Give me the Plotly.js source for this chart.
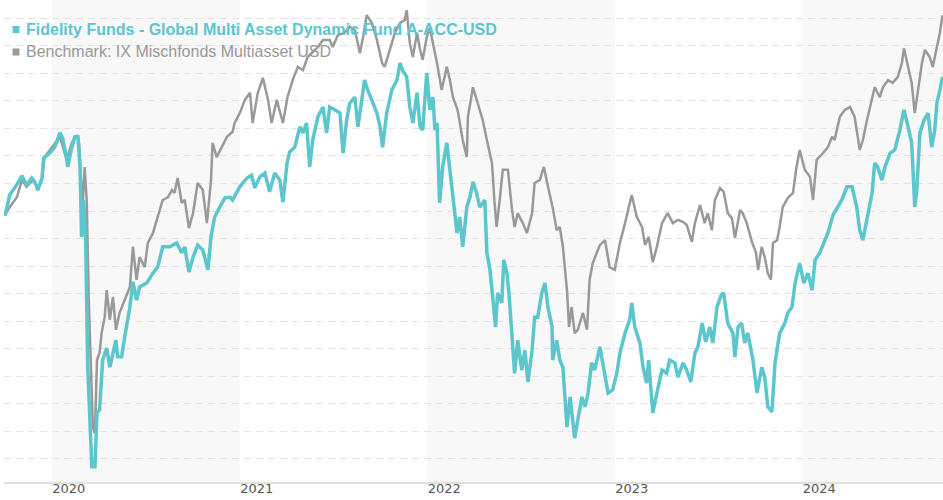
<!DOCTYPE html>
<html>
<head>
<meta charset="utf-8">
<script src="https://cdn.plot.ly/plotly-3.0.1.min.js"></script>
<style>html,body{margin:0;padding:0;background:#fff;}#chart{width:943px;height:500px;}</style>
</head>
<body>
<div id="chart"></div>
<script>
const fundName = "Fidelity Funds - Global Multi Asset Dynamic Fund A-ACC-USD";
const benchName = "Benchmark: IX Mischfonds Multiasset USD";

const yearTicks = ["2020-01-01","2021-01-01","2022-01-01","2023-01-01","2024-01-01"];
const yearLabels = ["2020","2021","2022","2023","2024"];
const shadedYears = [["2020-01-01","2021-01-01"],["2022-01-01","2023-01-01"],["2024-01-01","2025-01-01"]];

const fundDates = ["2019-10-02","2019-10-11","2019-10-21","2019-11-04","2019-11-13","2019-11-23","2019-11-29","2019-12-05","2019-12-13","2019-12-16","2019-12-28","2020-01-07","2020-01-17","2020-01-22","2020-01-30","2020-02-01","2020-02-09","2020-02-15","2020-02-21","2020-02-25","2020-02-28","2020-03-03","2020-03-07","2020-03-11","2020-03-19","2020-03-25","2020-03-29","2020-04-03","2020-04-09","2020-04-17","2020-04-23","2020-04-29","2020-05-05","2020-05-08","2020-05-16","2020-05-22","2020-05-28","2020-06-01","2020-06-07","2020-06-14","2020-06-20","2020-07-04","2020-07-16","2020-07-25","2020-08-04","2020-08-18","2020-08-31","2020-09-10","2020-09-16","2020-09-24","2020-10-02","2020-10-11","2020-10-21","2020-10-31","2020-11-06","2020-11-13","2020-11-23","2020-12-03","2020-12-13","2020-12-18","2021-01-01","2021-01-15","2021-01-24","2021-01-30","2021-02-09","2021-02-19","2021-02-28","2021-03-10","2021-03-20","2021-03-26","2021-04-03","2021-04-08","2021-04-18","2021-04-28","2021-05-04","2021-05-11","2021-05-17","2021-05-23","2021-06-02","2021-06-12","2021-06-19","2021-06-25","2021-07-05","2021-07-15","2021-07-21","2021-07-28","2021-08-03","2021-08-13","2021-08-19","2021-08-27","2021-09-01","2021-09-07","2021-09-15","2021-09-25","2021-10-01","2021-10-06","2021-10-14","2021-10-24","2021-11-03","2021-11-09","2021-11-14","2021-11-22","2021-11-28","2021-12-04","2021-12-12","2021-12-18","2021-12-23","2021-12-31","2022-01-06","2022-01-12","2022-01-16","2022-01-20","2022-01-25","2022-01-31","2022-02-08","2022-02-14","2022-02-20","2022-02-28","2022-03-05","2022-03-11","2022-03-19","2022-03-25","2022-03-31","2022-04-07","2022-04-13","2022-04-23","2022-04-27","2022-05-03","2022-05-09","2022-05-14","2022-05-18","2022-05-26","2022-05-30","2022-06-05","2022-06-09","2022-06-15","2022-06-20","2022-06-26","2022-07-04","2022-07-10","2022-07-16","2022-07-24","2022-07-29","2022-08-04","2022-08-12","2022-08-18","2022-08-24","2022-09-01","2022-09-02","2022-09-10","2022-09-16","2022-09-22","2022-09-30","2022-10-06","2022-10-11","2022-10-15","2022-10-21","2022-10-29","2022-11-04","2022-11-10","2022-11-17","2022-11-23","2022-12-03","2022-12-13","2022-12-19","2022-12-28","2023-01-05","2023-01-11","2023-01-21","2023-01-30","2023-02-03","2023-02-09","2023-02-19","2023-02-25","2023-03-04","2023-03-08","2023-03-16","2023-03-24","2023-04-03","2023-04-12","2023-04-18","2023-04-28","2023-05-04","2023-05-14","2023-05-21","2023-05-29","2023-06-06","2023-06-12","2023-06-20","2023-06-27","2023-07-05","2023-07-11","2023-07-19","2023-07-27","2023-08-01","2023-08-09","2023-08-19","2023-08-23","2023-08-29","2023-09-05","2023-09-11","2023-09-17","2023-09-27","2023-10-05","2023-10-14","2023-10-20","2023-10-26","2023-11-03","2023-11-09","2023-11-18","2023-11-28","2023-12-04","2023-12-12","2023-12-18","2023-12-27","2024-01-04","2024-01-12","2024-01-20","2024-01-26","2024-02-04","2024-02-12","2024-02-20","2024-03-01","2024-03-10","2024-03-18","2024-03-28","2024-04-07","2024-04-16","2024-04-22","2024-04-28","2024-05-06","2024-05-16","2024-05-21","2024-05-27","2024-06-04","2024-06-10","2024-06-20","2024-06-29","2024-07-09","2024-07-17","2024-07-25","2024-08-01","2024-08-07","2024-08-11","2024-08-17","2024-08-25","2024-09-02","2024-09-09","2024-09-15","2024-09-19","2024-09-25","2024-09-30"];
const fundValues = [99.1,102.9,104.2,106.4,104.7,106.0,105.3,103.8,106.0,109.6,110.5,111.6,114.2,113.3,109.6,108.0,111.6,113.5,113.5,108.0,95.3,102.0,94.7,71.6,53.5,53.5,63.3,63.8,72.9,75.1,71.6,74.2,76.5,73.5,73.5,77.1,80.2,82.5,87.1,83.8,86.2,86.9,88.7,89.8,93.5,93.5,94.2,92.4,93.5,88.9,91.6,93.8,92.9,89.3,95.3,98.9,100.7,102.4,102.5,102.0,104.4,106.0,106.5,104.2,106.2,106.9,103.5,106.9,105.6,101.6,108.7,110.7,111.6,115.3,114.2,116.0,108.0,112.9,117.1,118.9,114.2,118.9,118.4,117.8,110.5,116.5,119.6,120.7,115.3,120.2,123.8,122.0,120.2,117.8,115.3,111.6,117.8,122.0,123.8,126.9,125.6,124.4,118.9,116.0,121.5,115.3,114.7,125.1,118.4,120.7,114.7,116.0,101.5,108.0,112.4,107.5,102.5,96.0,98.9,93.5,100.7,102.5,105.3,103.3,100.7,102.0,92.4,89.3,83.8,78.9,85.1,83.3,91.1,88.7,85.1,76.5,70.5,76.5,71.1,74.7,68.9,74.7,80.7,80.7,85.1,86.9,82.5,78.9,72.9,76.5,72.9,71.6,60.7,66.2,61.5,58.7,62.0,66.2,64.4,66.9,72.4,71.1,75.3,70.5,66.9,67.5,70.5,74.2,77.8,80.2,83.3,78.9,76.0,71.6,68.7,72.9,63.3,66.9,71.1,70.5,72.9,72.4,69.8,72.4,71.1,68.9,74.2,75.3,79.6,76.2,78.9,76.0,82.5,84.7,85.1,79.6,77.8,73.5,78.9,79.6,76.0,77.8,72.9,66.9,71.6,69.8,64.4,63.5,72.4,77.8,79.6,81.5,82.5,86.9,90.5,86.9,88.7,85.6,91.1,92.4,94.2,96.0,99.3,100.7,102.0,104.4,104.4,100.7,96.5,94.7,98.9,103.3,108.7,108.0,105.6,108.0,110.5,111.1,114.7,118.4,115.3,112.4,100.7,103.8,114.2,116.5,117.8,111.6,114.7,119.6,122.0,124.4];

const benchDates = ["2019-10-02","2019-10-11","2019-10-25","2019-11-04","2019-11-13","2019-11-25","2019-12-05","2019-12-13","2019-12-18","2020-01-01","2020-01-17","2020-01-30","2020-02-09","2020-02-19","2020-02-23","2020-03-01","2020-03-05","2020-03-09","2020-03-13","2020-03-21","2020-03-25","2020-03-29","2020-04-03","2020-04-07","2020-04-13","2020-04-17","2020-04-23","2020-04-29","2020-05-05","2020-05-12","2020-05-22","2020-06-01","2020-06-07","2020-06-14","2020-06-20","2020-06-30","2020-07-06","2020-07-16","2020-07-25","2020-08-04","2020-08-14","2020-08-22","2020-08-27","2020-09-02","2020-09-10","2020-09-16","2020-09-24","2020-10-02","2020-10-11","2020-10-21","2020-10-29","2020-11-06","2020-11-09","2020-11-17","2020-11-27","2020-12-07","2020-12-18","2020-12-22","2021-01-01","2021-01-11","2021-01-21","2021-01-26","2021-02-05","2021-02-15","2021-02-25","2021-03-04","2021-03-14","2021-03-26","2021-04-04","2021-04-14","2021-04-24","2021-05-04","2021-05-13","2021-05-23","2021-06-02","2021-06-12","2021-06-25","2021-07-01","2021-07-11","2021-07-24","2021-08-03","2021-08-13","2021-08-23","2021-08-29","2021-09-05","2021-09-15","2021-09-25","2021-10-05","2021-10-10","2021-10-20","2021-10-30","2021-11-09","2021-11-18","2021-11-22","2021-11-28","2021-12-04","2021-12-12","2021-12-18","2021-12-23","2021-12-31","2022-01-06","2022-01-12","2022-01-20","2022-01-29","2022-02-08","2022-02-14","2022-02-20","2022-03-01","2022-03-11","2022-03-19","2022-03-21","2022-03-31","2022-04-09","2022-04-19","2022-04-27","2022-05-07","2022-05-12","2022-05-16","2022-05-22","2022-05-28","2022-06-07","2022-06-15","2022-06-20","2022-06-26","2022-07-06","2022-07-14","2022-07-24","2022-07-29","2022-08-08","2022-08-16","2022-08-24","2022-09-02","2022-09-10","2022-09-16","2022-09-22","2022-09-30","2022-10-04","2022-10-09","2022-10-15","2022-10-21","2022-10-31","2022-11-08","2022-11-13","2022-11-19","2022-11-27","2022-12-03","2022-12-13","2022-12-22","2023-01-01","2023-01-11","2023-01-21","2023-02-03","2023-02-13","2023-02-23","2023-03-01","2023-03-08","2023-03-16","2023-03-24","2023-04-03","2023-04-14","2023-04-24","2023-05-04","2023-05-14","2023-05-21","2023-05-31","2023-06-06","2023-06-16","2023-06-25","2023-07-01","2023-07-09","2023-07-15","2023-07-25","2023-08-01","2023-08-09","2023-08-17","2023-08-23","2023-09-02","2023-09-07","2023-09-15","2023-09-25","2023-10-03","2023-10-07","2023-10-14","2023-10-20","2023-10-26","2023-11-01","2023-11-05","2023-11-13","2023-11-18","2023-11-24","2023-12-04","2023-12-14","2023-12-20","2023-12-27","2024-01-06","2024-01-16","2024-01-22","2024-01-29","2024-02-10","2024-02-20","2024-02-28","2024-03-04","2024-03-14","2024-03-24","2024-04-03","2024-04-12","2024-04-22","2024-04-28","2024-05-06","2024-05-16","2024-05-21","2024-05-31","2024-06-06","2024-06-16","2024-06-25","2024-07-05","2024-07-13","2024-07-17","2024-07-25","2024-08-01","2024-08-07","2024-08-13","2024-08-21","2024-08-27","2024-09-05","2024-09-11","2024-09-19","2024-09-25","2024-09-30"];
const benchValues = [99.3,100.7,102.5,105.6,104.4,105.6,104.2,105.6,109.8,111.5,113.5,109.3,112.4,113.8,112.4,100.7,108.0,102.0,83.8,60.7,59.6,72.9,74.2,77.8,80.7,85.6,80.2,84.4,78.4,81.5,83.8,86.2,93.5,87.5,91.6,89.8,94.2,96.0,98.9,102.0,102.5,103.8,103.3,106.0,101.5,102.0,96.9,99.6,105.1,103.8,97.8,105.6,112.4,109.8,111.6,113.5,114.4,116.0,117.8,120.2,121.5,116.0,121.5,124.2,120.2,116.0,120.2,116.0,120.7,123.8,126.2,125.6,128.0,128.9,129.8,131.1,131.1,129.8,132.0,132.4,133.5,132.9,128.7,131.6,135.6,134.2,131.1,126.9,126.2,129.3,132.4,134.2,134.7,136.5,130.5,128.0,132.4,129.3,127.5,131.6,133.3,130.5,126.9,122.0,126.2,123.8,120.7,118.4,112.9,109.8,117.1,122.5,119.6,116.5,112.9,108.7,101.5,97.1,102.0,107.5,107.5,100.2,97.1,99.6,97.8,96.0,99.6,105.1,105.6,108.0,104.4,100.7,96.5,97.1,93.5,85.6,78.9,82.5,77.8,78.4,81.5,78.4,87.5,90.5,92.4,93.8,94.7,89.8,89.3,94.2,97.8,102.9,98.9,97.1,93.8,95.3,90.7,93.5,97.8,99.6,97.8,98.4,98.0,97.5,94.4,97.8,101.1,97.8,99.6,96.5,102.0,104.2,103.5,99.6,98.7,95.1,100.2,99.6,97.8,94.4,92.4,89.3,93.5,91.6,88.7,87.5,94.2,94.7,97.1,100.7,102.4,103.3,107.5,111.1,107.5,106.2,102.0,109.3,110.5,111.6,113.5,112.9,117.1,118.4,118.9,117.1,111.1,112.9,116.5,120.2,122.5,120.7,122.5,123.8,123.3,124.4,126.9,129.6,126.2,123.3,117.8,122.0,126.9,129.3,128.0,126.2,129.8,132.4,135.6];

const fundColor = "#5cc6cd";
const benchColor = "#999999";

const traces = [
  {x: benchDates, y: benchValues, type: "scatter", mode: "lines", name: benchName,
   line: {color: benchColor, width: 2.5}, hoverinfo: "skip", showlegend: false},
  {x: fundDates, y: fundValues, type: "scatter", mode: "lines", name: fundName,
   line: {color: fundColor, width: 3.5}, hoverinfo: "skip", showlegend: false}
];

const shapes = shadedYears.map(p => ({
  type: "rect", xref: "x", yref: "paper", x0: p[0], x1: p[1], y0: 0, y1: 1,
  fillcolor: "#f8f8f8", line: {width: 0}, layer: "below"
}));
shapes.push({type: "rect", xref: "paper", yref: "paper", xsizemode: "pixel", ysizemode: "pixel",
  xanchor: 0, yanchor: 1, x0: 8.5, x1: 15.5, y0: -33, y1: -26, fillcolor: fundColor, line: {width: 0}});
shapes.push({type: "rect", xref: "paper", yref: "paper", xsizemode: "pixel", ysizemode: "pixel",
  xanchor: 0, yanchor: 1, x0: 8.5, x1: 15.5, y0: -55.5, y1: -48.5, fillcolor: benchColor, line: {width: 0}});

const annotations = [
  {xref: "paper", yref: "paper", x: 0, y: 1, xanchor: "left", yanchor: "middle", xshift: 20, yshift: -29.5,
   text: "<b>" + fundName + "</b>", showarrow: false,
   font: {family: "Liberation Sans, Arial, sans-serif", size: 16, color: fundColor}},
  {xref: "paper", yref: "paper", x: 0, y: 1, xanchor: "left", yanchor: "middle", xshift: 20, yshift: -51.5,
   text: benchName, showarrow: false,
   font: {family: "Liberation Sans, Arial, sans-serif", size: 16, color: benchColor}}
];

const layout = {
  width: 943, height: 500,
  margin: {l: 4, r: 0, t: 0, b: 18, pad: 0},
  paper_bgcolor: "#ffffff", plot_bgcolor: "#ffffff",
  showlegend: false,
  xaxis: {
    type: "date", range: ["2019-09-30", "2024-10-01"],
    tickmode: "array", tickvals: yearTicks, ticktext: yearLabels,
    showgrid: false, zeroline: false, showline: true, linecolor: "#e0e0e0", linewidth: 2,
    ticks: "", ticklabelshift: 17, ticklabelstandoff: -7,
    tickfont: {family: "DejaVu Sans, sans-serif", size: 13, color: "#555555"},
    fixedrange: true
  },
  yaxis: {
    range: [50.73, 138.36], tick0: 0, dtick: 5,
    showticklabels: false, ticks: "", zeroline: false, showline: false,
    showgrid: true, gridcolor: "#e3e3e3", gridwidth: 1, griddash: "7px,5px",
    fixedrange: true
  },
  shapes: shapes,
  annotations: annotations
};

Plotly.newPlot("chart", traces, layout, {displayModeBar: false, staticPlot: true});
</script>
</body>
</html>
